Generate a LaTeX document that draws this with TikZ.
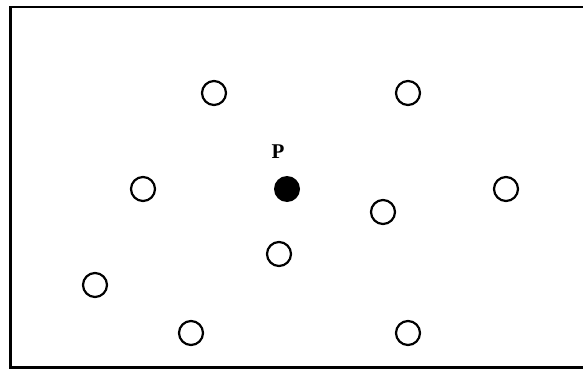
\documentclass[tikz,border=0pt]{standalone}
\usepackage{fontspec}
\setmainfont{Liberation Serif}
\begin{document}
\begin{tikzpicture}[x=1pt,y=-1pt,
  dot/.style={circle,draw=black,line width=2.2pt,minimum size=24pt,inner sep=0pt},
  fdot/.style={circle,fill=black,minimum size=26pt,inner sep=0pt},
  lbl/.style={inner sep=0pt}]
\useasboundingbox (0,0) rectangle (583,369);
\draw[line width=2.6pt] (583,7) -- (10.5,7) -- (10.5,367.5) -- (583,367.5);
\node[dot] (a) at (214,93) {};
\node[dot] (b) at (408,93) {};
\node[dot] (c) at (143,189) {};
\node[fdot] (p) at (287,189) {};
\node[lbl] (pl) at (278,152) {\fontsize{21pt}{21pt}\selectfont\bfseries P};
\node[dot] (d) at (383,212) {};
\node[dot] (e) at (506,189) {};
\node[dot] (f) at (279,254) {};
\node[dot] (g) at (95,285) {};
\node[dot] (h) at (191,333) {};
\node[dot] (i) at (408,333) {};
\end{tikzpicture}
\end{document}
